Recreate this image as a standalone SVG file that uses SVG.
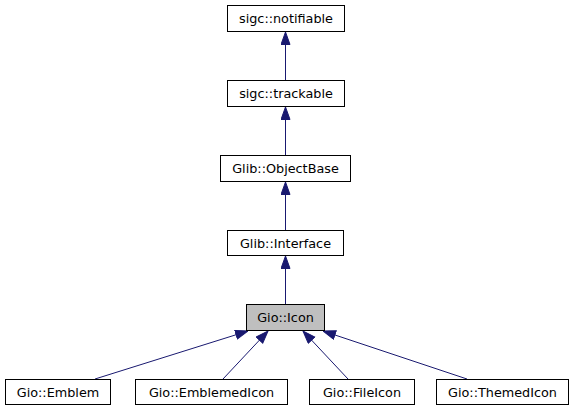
<svg xmlns="http://www.w3.org/2000/svg" width="574" height="411" viewBox="0 0 574 411">
<style>
.n rect{fill:#fff;stroke:#000;stroke-width:1}
.n text{font-family:"DejaVu Sans",sans-serif;font-size:12.8px;text-anchor:middle;fill:#000}
.e{stroke:#191970;stroke-width:1;fill:none}
</style>
<defs>
<marker id="a" markerWidth="13" markerHeight="11" refX="13" refY="5" orient="auto" markerUnits="userSpaceOnUse">
<path d="M0.5,0.5 L13,5 L0.5,9.5 Z" fill="#191970" stroke="#191970"/>
</marker>
</defs>
<rect width="574" height="411" fill="#fff"/>
<g id="edges">
<path class="e" d="M285.5,80 L285.5,32" marker-end="url(#a)"/>
<path class="e" d="M285.5,155 L285.5,107" marker-end="url(#a)"/>
<path class="e" d="M285.5,230 L285.5,182" marker-end="url(#a)"/>
<path class="e" d="M285.5,304 L285.5,256" marker-end="url(#a)"/>
<path class="e" d="M95,379 L248,331" marker-end="url(#a)"/>
<path class="e" d="M223,379 L268,331" marker-end="url(#a)"/>
<path class="e" d="M348,379 L303,331" marker-end="url(#a)"/>
<path class="e" d="M467,379 L323,331" marker-end="url(#a)"/>
</g>
<g id="n_notifiable" class="n"><rect x="227.5" y="5.5" width="117" height="26"/><text x="286" y="23">sigc::notifiable</text></g>
<g id="n_trackable" class="n"><rect x="227.5" y="80.5" width="117" height="26"/><text x="286" y="98">sigc::trackable</text></g>
<g id="n_objectbase" class="n"><rect x="220.5" y="155.5" width="130" height="26"/><text x="285.5" y="173">Glib::ObjectBase</text></g>
<g id="n_interface" class="n"><rect x="227.5" y="230.5" width="116" height="25"/><text x="285.5" y="247.5">Glib::Interface</text></g>
<g id="n_icon" class="n"><rect x="246.5" y="304.5" width="78" height="26" style="fill:#bfbfbf"/><text x="285.5" y="322">Gio::Icon</text></g>
<g id="n_emblem" class="n"><rect x="5.5" y="379.5" width="105" height="25"/><text x="58" y="396.5">Gio::Emblem</text></g>
<g id="n_emblemedicon" class="n"><rect x="135.5" y="379.5" width="152" height="25"/><text x="211.5" y="396.5">Gio::EmblemedIcon</text></g>
<g id="n_fileicon" class="n"><rect x="309.5" y="379.5" width="105" height="25"/><text x="362" y="396.5">Gio::FileIcon</text></g>
<g id="n_themedicon" class="n"><rect x="436.5" y="379.5" width="132" height="25"/><text x="502.5" y="396.5">Gio::ThemedIcon</text></g>
</svg>
